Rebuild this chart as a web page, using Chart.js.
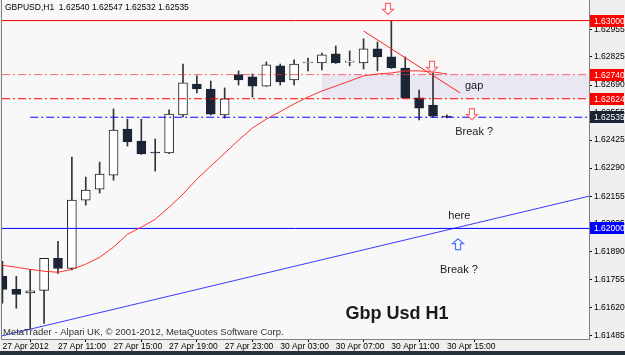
<!DOCTYPE html>
<html>
<head>
<meta charset="utf-8">
<script src="https://cdn.jsdelivr.net/npm/chart.js@4.4.1/dist/chart.umd.min.js"></script>
<style>
  html, body { margin: 0; padding: 0; background: #efefef; }
</style>
</head>
<body>
<canvas id="chart" width="625" height="355"></canvas>
<script>
// GBPUSD H1, bar 0 = 27 Apr 2012 07:00, weekend skipped after bar 16
const barOpen  = [1.61770, 1.61707, 1.61690, 1.61702, 1.61856, 1.61808, 1.62136, 1.62189, 1.62256, 1.62478, 1.62420,
                  1.62365, 1.62363, 1.62546, 1.62695, 1.62671, 1.62546, 1.62740, 1.62729, 1.62685, 1.62782, 1.62714,
                  1.62796, 1.62796, 1.62840, 1.62800, 1.62796, 1.62864, 1.62825, 1.62772, 1.62628, 1.62594, 1.62540];
const barHigh  = [1.61842, 1.61770, 1.61803, 1.61856, 1.61938, 1.62343, 1.62247, 1.62319, 1.62575, 1.62526, 1.62526,
                  1.62430, 1.62570, 1.62791, 1.62734, 1.62709, 1.62676, 1.62758, 1.62743, 1.62801, 1.62791, 1.62811,
                  1.62820, 1.62844, 1.62878, 1.62854, 1.62912, 1.62897, 1.62998, 1.62825, 1.62666, 1.62748, 1.62547];
const barLow   = [1.61640, 1.61616, 1.61514, 1.61543, 1.61784, 1.61800, 1.62112, 1.62170, 1.62232, 1.62396, 1.62356,
                  1.62276, 1.62360, 1.62536, 1.62652, 1.62546, 1.62531, 1.62690, 1.62632, 1.62683, 1.62690, 1.62690,
                  1.62758, 1.62762, 1.62794, 1.62782, 1.62767, 1.62758, 1.62770, 1.62626, 1.62522, 1.62534, 1.62532];
const barClose = [1.61707, 1.61683, 1.61700, 1.61856, 1.61808, 1.62136, 1.62184, 1.62261, 1.62473, 1.62416, 1.62358,
                  1.62363, 1.62550, 1.62700, 1.62671, 1.62550, 1.62624, 1.62714, 1.62685, 1.62787, 1.62705, 1.62791,
                  1.62798, 1.62835, 1.62796, 1.62802, 1.62864, 1.62825, 1.62772, 1.62628, 1.62579, 1.62540, 1.62535];
// moving average (red curve), one value per bar
const maLine   = [1.61823, 1.61813, 1.61803, 1.61794, 1.61789, 1.61803, 1.61828, 1.61861, 1.61910, 1.61972, 1.62006,
                  1.62044, 1.62102, 1.62165, 1.62237, 1.62300, 1.62362, 1.62425, 1.62483, 1.62526, 1.62562, 1.62599,
                  1.62632, 1.62661, 1.62685, 1.62709, 1.62734, 1.62743, 1.62748, 1.62758, 1.62758, 1.62753, 1.62743];

const timeTickBars = [0, 4, 8, 12, 16, 20, 24, 28, 32];
const timeLabels = ['27 Apr 2012', '27 Apr 11:00', '27 Apr 15:00', '27 Apr 19:00', '27 Apr 23:00',
                    '30 Apr 03:00', '30 Apr 07:00', '30 Apr 11:00', '30 Apr 15:00'];
const priceTicks = [1.62955, 1.62825, 1.62690, 1.62555, 1.62425, 1.62290, 1.62155, 1.62025,
                    1.61890, 1.61755, 1.61620, 1.61485];

// drawn objects
const resistTop = 1.63000;
const gapHigh = 1.62740;
const gapLow = 1.62624;
const gapFromBar = 23;
const breakLevel = 1.62535;
const breakFromBar = 2;
const supportLevel = 1.62000;
const downTrend = [{x: 26, y: 1.62950}, {x: 32.95, y: 1.62652}];
const upTrend = [{x: -0.03, y: 1.61483}, {x: 42.23, y: 1.62155}];

const header = 'GBPUSD,H1  1.62540 1.62547 1.62532 1.62535';
const copyright = 'MetaTrader - Alpari UK, \u00a9 2001-2012, MetaQuotes Software Corp.';

const xMin = -0.03, xMax = 42.23;
const yMin = 1.61468, yMax = 1.63099;

const axisFont = { family: 'Liberation Sans', size: 8.5 };
const bull = '#ffffff', bear = '#1b2536';

function hollowArrow(ctx, cx, cy, dir, color) {
  const tip = cy + dir * 5.5, base = cy - dir * 5.5, neck = tip - dir * 5;
  ctx.beginPath();
  ctx.moveTo(cx - 2.5, base);
  ctx.lineTo(cx + 2.5, base);
  ctx.lineTo(cx + 2.5, neck);
  ctx.lineTo(cx + 5.5, neck);
  ctx.lineTo(cx, tip);
  ctx.lineTo(cx - 5.5, neck);
  ctx.lineTo(cx - 2.5, neck);
  ctx.closePath();
  ctx.fillStyle = '#ffffff';
  ctx.fill();
  ctx.strokeStyle = color;
  ctx.lineWidth = 1.2;
  ctx.stroke();
}

const mt4Decor = {
  id: 'mt4Decor',
  beforeDraw(chart) {
    const { ctx, chartArea: a } = chart;
    ctx.save();
    ctx.fillStyle = '#efefef';
    ctx.fillRect(0, 0, chart.width, chart.height);
    ctx.fillStyle = '#f8f8f8';
    ctx.fillRect(a.left, a.top, a.right - a.left, a.bottom - a.top);
    ctx.restore();
  },
  afterDatasetsDraw(chart) {
    const { ctx, chartArea: a } = chart;
    const xs = chart.scales.x, ys = chart.scales.y;
    const px = v => xs.getPixelForValue(v), py = v => ys.getPixelForValue(v);
    ctx.save();
    ctx.beginPath();
    ctx.rect(a.left, a.top, a.right - a.left, a.bottom - a.top);
    ctx.clip();

    hollowArrow(ctx, px(27.76), py(1.63056), 1, '#ff6a6a');
    hollowArrow(ctx, px(30.93), py(1.62777), 1, '#ff6a6a');
    hollowArrow(ctx, px(33.8), py(1.62550), 1, '#ff6a6a');
    hollowArrow(ctx, px(32.8), py(1.61924), -1, '#4a78ff');

    ctx.fillStyle = '#1a1a1a';
    ctx.textBaseline = 'middle';
    ctx.textAlign = 'left';
    ctx.font = '11px "Liberation Sans"';
    ctx.fillText('gap', px(33.3), py(1.62685));
    ctx.fillText('Break ?', px(32.6), py(1.62464));
    ctx.fillText('here', px(32.1), py(1.62059));
    ctx.fillText('Break ?', px(31.5), py(1.61799));
    ctx.font = 'bold 18px "Liberation Sans"';
    ctx.fillText('Gbp Usd H1', px(24.7), py(1.61587));
    ctx.restore();

    ctx.save();
    ctx.textBaseline = 'middle';
    ctx.textAlign = 'left';
    ctx.font = '8.5px "Liberation Sans"';
    ctx.fillStyle = '#000000';
    ctx.fillText(header, 5, 8);
    ctx.fillStyle = '#303030';
    ctx.font = '9.5px "Liberation Sans"';
    ctx.fillText(copyright, 3, 332);
    ctx.restore();
  },
  afterDraw(chart) {
    const { ctx, chartArea: a } = chart;
    const ys = chart.scales.y;
    ctx.save();
    ctx.strokeStyle = '#808080';
    ctx.lineWidth = 1;
    ctx.beginPath();
    ctx.moveTo(a.left - 0.5, a.top);
    ctx.lineTo(a.left - 0.5, a.bottom + 0.5);
    ctx.stroke();

    const boxes = [
      [resistTop, '#ff0000'], [gapHigh, '#ff0000'], [gapLow, '#ff0000'],
      [breakLevel, '#1b2536'], [supportLevel, '#0000ff']
    ];
    ctx.font = '8.5px "Liberation Sans"';
    ctx.textBaseline = 'middle';
    ctx.textAlign = 'left';
    boxes.forEach(([v, c]) => {
      const y = Math.round(ys.getPixelForValue(v));
      ctx.fillStyle = c;
      ctx.fillRect(a.right + 1, y - 6, 34, 12);
      ctx.fillStyle = '#ffffff';
      ctx.fillText(v.toFixed(5), a.right + 5, y + 0.5);
    });

    ctx.fillStyle = '#27313d';
    ctx.fillRect(0, 351, chart.width, 4);
    ctx.restore();
  }
};

const lvl = (v, from) => [{ x: from, y: v }, { x: xMax, y: v }];
const lineStyle = { pointRadius: 0, borderWidth: 1, fill: false, tension: 0 };

new Chart(document.getElementById('chart'), {
  data: {
    datasets: [
      {
        type: 'line', order: 20, data: lvl(gapHigh, gapFromBar),
        borderWidth: 0, pointRadius: 0, backgroundColor: '#e9e7f1', fill: { value: gapLow }
      },
      {
        type: 'bar', order: 12, grouped: false, barThickness: 1, minBarLength: 1,
        data: barHigh.map((h, i) => ({ x: i, y: [barLow[i], h] })),
        backgroundColor: '#333333', borderWidth: 0
      },
      {
        type: 'bar', order: 11, grouped: false, barThickness: 9, minBarLength: 1,
        data: barOpen.map((o, i) => ({ x: i, y: [o, barClose[i]] })),
        backgroundColor: barOpen.map((o, i) => barClose[i] >= o ? bull : bear),
        borderColor: barOpen.map((o, i) => barClose[i] >= o ? '#202020' : bear),
        borderWidth: 1, borderSkipped: false
      },
      { type: 'line', order: 5, data: lvl(resistTop, xMin), borderColor: '#ff0000', ...lineStyle },
      { type: 'line', order: 5, data: lvl(gapHigh, xMin), borderColor: 'rgba(255,40,40,0.7)', borderDash: [8, 3, 2, 3], ...lineStyle },
      { type: 'line', order: 5, data: lvl(gapLow, xMin), borderColor: '#ff0000', borderDash: [8, 3, 2, 3], ...lineStyle },
      { type: 'line', order: 5, data: lvl(breakLevel, breakFromBar), borderColor: '#0000ff', borderDash: [8, 3, 2, 3], ...lineStyle },
      { type: 'line', order: 5, data: lvl(supportLevel, xMin), borderColor: '#0000ff', ...lineStyle },
      { type: 'line', order: 5, data: upTrend, borderColor: '#3a3aff', ...lineStyle },
      { type: 'line', order: 5, data: downTrend, borderColor: '#ff2020', ...lineStyle },
      { type: 'line', order: 1, data: maLine.map((v, i) => ({ x: i, y: v })), borderColor: '#ff3030', ...lineStyle }
    ]
  },
  options: {
    responsive: false,
    animation: false,
    events: [],
    layout: { padding: { left: 2, top: 0, right: 0, bottom: 0 } },
    plugins: { legend: { display: false }, tooltip: { enabled: false } },
    scales: {
      x: {
        type: 'linear', min: xMin, max: xMax, offset: false,
        afterBuildTicks: s => { s.ticks = timeTickBars.map(v => ({ value: v })); },
        afterFit: s => { s.height = 16; s.paddingLeft = 0; s.paddingRight = 0; },
        ticks: {
          callback: v => timeLabels[timeTickBars.indexOf(v)],
          align: 'start', maxRotation: 0, autoSkip: false, padding: 0,
          font: axisFont, color: '#000000'
        },
        grid: { drawOnChartArea: false, tickLength: 3, color: '#000000' },
        border: { color: '#808080' }
      },
      y: {
        type: 'linear', position: 'right', min: yMin, max: yMax,
        afterBuildTicks: s => { s.ticks = priceTicks.map(v => ({ value: v })); },
        afterFit: s => { s.width = 36; s.paddingTop = 0; s.paddingBottom = 0; },
        ticks: {
          callback: v => v.toFixed(5), padding: 2,
          font: axisFont, color: '#000000'
        },
        grid: { drawOnChartArea: false, tickLength: 3, color: '#000000' },
        border: { color: '#808080' }
      }
    }
  },
  plugins: [mt4Decor]
});
</script>
</body>
</html>
